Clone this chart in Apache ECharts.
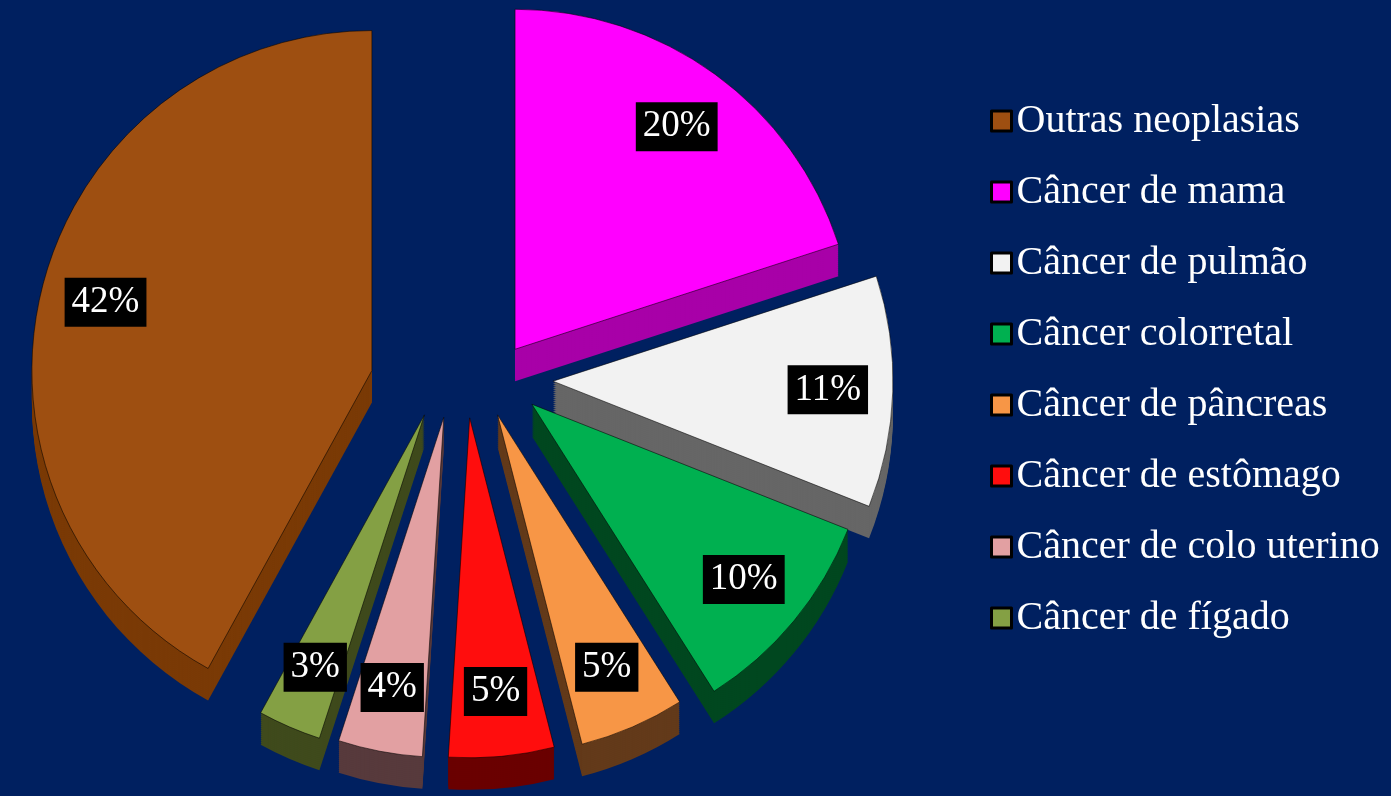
<!DOCTYPE html>
<html>
<head>
<meta charset="utf-8">
<script src="https://cdn.jsdelivr.net/npm/echarts@6/dist/echarts.min.js"></script>
<style>
  html, body { margin: 0; padding: 0; background: #002060; }
  #chart { width: 1391px; height: 796px; }
</style>
</head>
<body>
<div id="chart"></div>
<script>
// data (percent of deaths by cancer type)
var categories = ['Outras neoplasias', 'Câncer de mama', 'Câncer de pulmão', 'Câncer colorretal',
  'Câncer de pâncreas', 'Câncer de estômago', 'Câncer de colo uterino', 'Câncer de fígado']
var values = [42, 20, 11, 10, 5, 5, 4, 3]

var topColors = ['#9E4F11', '#FF00FF', '#F2F2F2', '#00B050', '#F79646', '#FF0D0D', '#E2A0A2', '#84A044']
var sideColors = ['#7A3A06', '#A800A8', '#666666', '#00471F', '#633A1A', '#6A0000', '#573A3C', '#3F4A1C']

var cx = 461, cy = 380, R = 340
// explosion is wider than tall, like the tilted 3d pie
var explodeX = 92, explodeY = 38
var depth = 32, step = 2
var total = values.reduce(function(a, b){ return a + b }, 0)
// first slice ends at 12 o'clock, the rest go clockwise from there
var startAngle = 90 + values[0] / total * 360

// full ring where only slice i is painted
function sliceData(i, color, withLabel) {
  return categories.map(function(name, j){
    if (j !== i) {
      return { name: name, value: values[j], itemStyle: { color: 'rgba(0,0,0,0)', borderWidth: 0 }, label: { show: false } }
    }
    return { name: name, value: values[j], itemStyle: { color: color }, label: { show: withLabel } }
  })
}

function pieBase(opts) {
  return Object.assign({
    type: 'pie',
    startAngle: startAngle,
    clockwise: true,
    animation: false,
    silent: true,
    label: { show: false },
    labelLine: { show: false },
    emphasis: { disabled: true }
  }, opts)
}

var series = []
var cum = 0
values.forEach(function(v, i){
  var mid = (-values[0] / total * 360 + (cum + v / 2) / total * 360) * Math.PI / 180
  cum += v
  var ox = cx + explodeX * Math.sin(mid)
  var oy = cy - explodeY * Math.cos(mid)

  // top face
  series.push(pieBase({
    name: 'top' + i,
    z: 5,
    center: [ox, oy],
    radius: R,
    data: sliceData(i, topColors[i], false),
    itemStyle: { borderColor: 'rgba(0,0,0,0.55)', borderWidth: 1 }
  }))
  // label, pushed toward the rim through a transparent ring
  series.push(pieBase({
    name: 'label' + i,
    z: 6,
    center: [ox, oy],
    radius: [R * 0.6, R],
    data: sliceData(i, 'rgba(0,0,0,0)', true),
    itemStyle: { borderWidth: 0 },
    label: {
      position: 'inside',
      formatter: '{c}%',
      color: '#fff',
      backgroundColor: '#000',
      fontFamily: 'Liberation Serif',
      fontSize: 37,
      lineHeight: 39,
      padding: [5, 7]
    }
  }))
  // extruded side
  for (var k = depth; k > 0; k -= step) {
    series.push(pieBase({
      name: 'side' + i + '_' + k,
      z: 2,
      center: [ox, oy + k],
      radius: R,
      data: sliceData(i, sideColors[i], false),
      itemStyle: { borderWidth: 0 }
    }))
  }
})

var chart = echarts.init(document.getElementById('chart'))
chart.setOption({
  backgroundColor: '#002060',
  legend: {
    orient: 'vertical',
    left: 985,
    top: 96,
    itemWidth: 20,
    itemHeight: 20,
    itemGap: 31,
    icon: 'rect',
    selectedMode: false,
    textStyle: { color: '#fff', fontFamily: 'Liberation Serif', fontSize: 40, lineHeight: 40 },
    data: categories.map(function(name, i){
      return { name: name, itemStyle: { color: topColors[i], borderColor: '#000', borderWidth: 3 } }
    })
  },
  series: series
})
</script>
</body>
</html>
